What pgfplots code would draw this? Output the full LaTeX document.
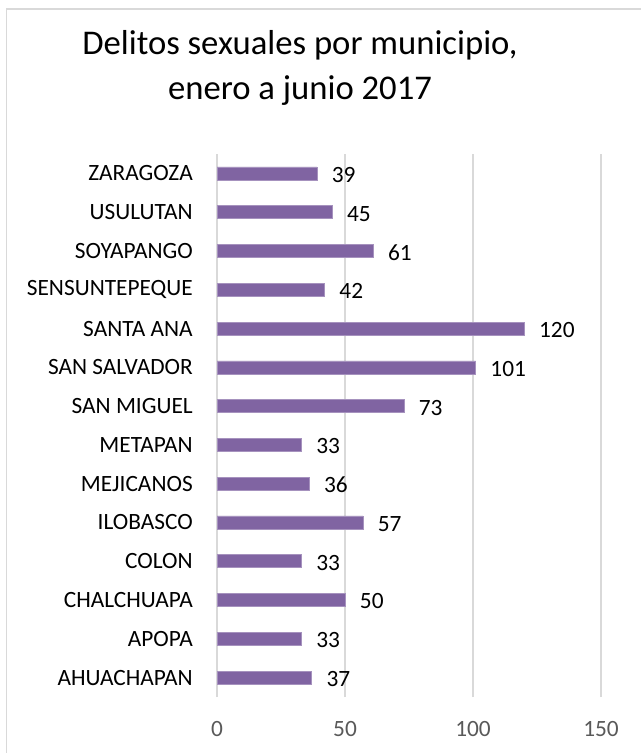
\documentclass[border=0pt]{standalone}
\usepackage{pgfplots}
\pgfplotsset{compat=1.18}
\usepackage{fontspec}
\setmainfont{Carlito}

\definecolor{barpurple}{HTML}{8064A2}
\definecolor{gridgray}{HTML}{D9D9D9}
\definecolor{ticktext}{HTML}{595959}

\begin{document}
\begin{tikzpicture}[x=0.75pt, y=0.75pt]
    \useasboundingbox (0,0) rectangle (640,753);
    % chart frame (only top and left edges fall inside the picture)
    \draw[gridgray, line width=1.2pt] (6.5,-5) -- (6.5,744) -- (650,744);

    % title
    \node[anchor=base, font=\fontsize{26}{31}\selectfont] at (300,698) {Delitos sexuales por municipio,};
    \node[anchor=base, font=\fontsize{26}{31}\selectfont] at (300,653) {enero a junio 2017};

    \begin{axis}[
        at={(162.75pt,42pt)},
        anchor=south west,
        scale only axis,
        width=288pt,
        height=407.25pt,
        xbar,
        bar width=9.75pt,
        xmin=0, xmax=150,
        ymin=-0.5, ymax=13.5,
        xtick={0,50,100,150},
        ytick=data,
        yticklabels={AHUACHAPAN,APOPA,CHALCHUAPA,COLON,ILOBASCO,MEJICANOS,METAPAN,SAN MIGUEL,SAN SALVADOR,SANTA ANA,SENSUNTEPEQUE,SOYAPANGO,USULUTAN,ZARAGOZA},
        axis line style={draw=none},
        major tick length=0pt,
        xmajorgrids=true,
        grid style={gridgray, line width=1.1pt},
        /pgf/number format/assume math mode=true,
        xticklabel style={font=\fontsize{17.5}{21}\selectfont, text=ticktext, inner sep=0pt, anchor=center, yshift=-24pt},
        yticklabel style={font=\fontsize{17.5}{21}\selectfont, text=black, inner sep=0pt, anchor=east, xshift=-18pt},
        nodes near coords,
        every node near coord/.append style={font=\fontsize{17.5}{21}\selectfont, text=black, anchor=west, inner sep=0pt, xshift=11pt, yshift=-1.1pt},
        clip=false,
    ]
    \addplot[fill=barpurple, draw=barpurple!70!white, line width=0.4pt] coordinates {
        (37,0) (33,1) (50,2) (33,3) (57,4) (36,5) (33,6)
        (73,7) (101,8) (120,9) (42,10) (61,11) (45,12) (39,13)
    };
    \end{axis}
\end{tikzpicture}
\end{document}
